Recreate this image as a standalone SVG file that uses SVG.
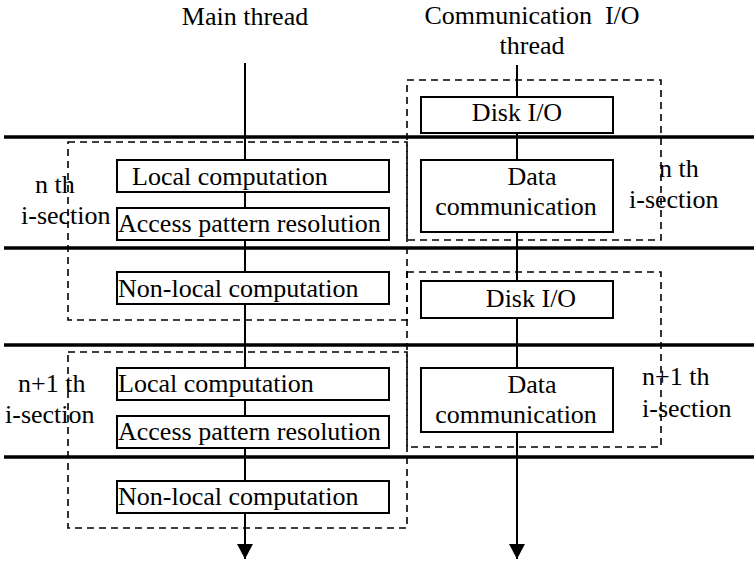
<svg xmlns="http://www.w3.org/2000/svg" width="754" height="562" viewBox="0 0 754 562">
  <style>
    text { font-family: "Liberation Serif", "Times New Roman", serif; font-size: 26px; fill: #000; }
    .mid { text-anchor: middle; }
    .sep { stroke: #000; stroke-width: 3.5; fill: none; }
    .thread { stroke: #000; stroke-width: 2; fill: none; }
    .box { stroke: #000; stroke-width: 2; fill: #fff; }
    .section { stroke: #000; stroke-width: 1.6; fill: none; stroke-dasharray: 7 5; }
  </style>
  <defs>
    <!-- filled triangle, tip at the end of the timeline -->
    <marker id="arrow" markerWidth="16" markerHeight="16" refX="15" refY="8" orient="auto" markerUnits="userSpaceOnUse" viewBox="0 0 16 16">
      <path d="M0,0 L15,8 L0,16 Z" fill="#000"/>
    </marker>
  </defs>

  <rect width="754" height="562" fill="#fff"/>

  <!-- thread titles -->
  <text class="mid" x="245" y="25">Main thread</text>
  <text class="mid" x="532" y="24">Communication&#160; I/O</text>
  <text class="mid" x="532" y="54">thread</text>

  <!-- phase separators -->
  <g id="separators">
    <line class="sep" x1="4" y1="137" x2="754" y2="137"/>
    <line class="sep" x1="4" y1="248" x2="754" y2="248"/>
    <line class="sep" x1="4" y1="345" x2="754" y2="345"/>
    <line class="sep" x1="4" y1="457" x2="754" y2="457"/>
  </g>

  <!-- timelines -->
  <g id="connectors">
    <line class="thread" x1="245" y1="63" x2="245" y2="559" marker-end="url(#arrow)"/>
    <line class="thread" x1="517" y1="65" x2="517" y2="559" marker-end="url(#arrow)"/>
  </g>

  <!-- i-section groupings -->
  <g id="sections">
    <rect class="section" x="68" y="142" width="339" height="178"/>
    <rect class="section" x="407" y="80" width="254" height="160"/>
    <rect class="section" x="407" y="272" width="254" height="175"/>
    <rect class="section" x="68" y="352" width="339" height="176"/>
  </g>

  <g id="label-n-left">
    <text x="35" y="193">n th</text>
    <text x="21" y="224">i-section</text>
  </g>
  <g id="label-n-right">
    <text x="659" y="177">n th</text>
    <text x="629" y="208">i-section</text>
  </g>
  <g id="label-n1-left">
    <text x="18" y="392">n+1 th</text>
    <text x="5" y="423">i-section</text>
  </g>
  <g id="label-n1-right">
    <text x="642" y="385">n+1 th</text>
    <text x="642" y="417">i-section</text>
  </g>

  <!-- main thread tasks -->
  <g id="local-1">
    <rect class="box" x="117" y="160" width="272" height="32"/>
    <text x="132" y="185">Local computation</text>
  </g>
  <g id="access-1">
    <rect class="box" x="117" y="208" width="272" height="32"/>
    <text x="118" y="232">Access pattern resolution</text>
  </g>
  <g id="nonlocal-1">
    <rect class="box" x="117" y="272" width="272" height="32"/>
    <text x="118" y="297">Non-local computation</text>
  </g>
  <g id="local-2">
    <rect class="box" x="117" y="368" width="272" height="32"/>
    <text x="118" y="392">Local computation</text>
  </g>
  <g id="access-2">
    <rect class="box" x="117" y="416" width="272" height="32"/>
    <text x="118" y="440">Access pattern resolution</text>
  </g>
  <g id="nonlocal-2">
    <rect class="box" x="117" y="481" width="272" height="32"/>
    <text x="118" y="505">Non-local computation</text>
  </g>

  <!-- communication / I/O thread tasks -->
  <g id="disk-1">
    <rect class="box" x="421" y="97" width="192" height="36"/>
    <text class="mid" x="517" y="121">Disk I/O</text>
  </g>
  <g id="comm-1">
    <rect class="box" x="421" y="160" width="192" height="72"/>
    <text class="mid" x="532" y="185">Data</text>
    <text class="mid" x="516" y="215">communication</text>
  </g>
  <g id="disk-2">
    <rect class="box" x="421" y="281" width="192" height="37"/>
    <text class="mid" x="531" y="307">Disk I/O</text>
  </g>
  <g id="comm-2">
    <rect class="box" x="421" y="368" width="192" height="64"/>
    <text class="mid" x="532" y="393">Data</text>
    <text class="mid" x="516" y="423">communication</text>
  </g>
</svg>
